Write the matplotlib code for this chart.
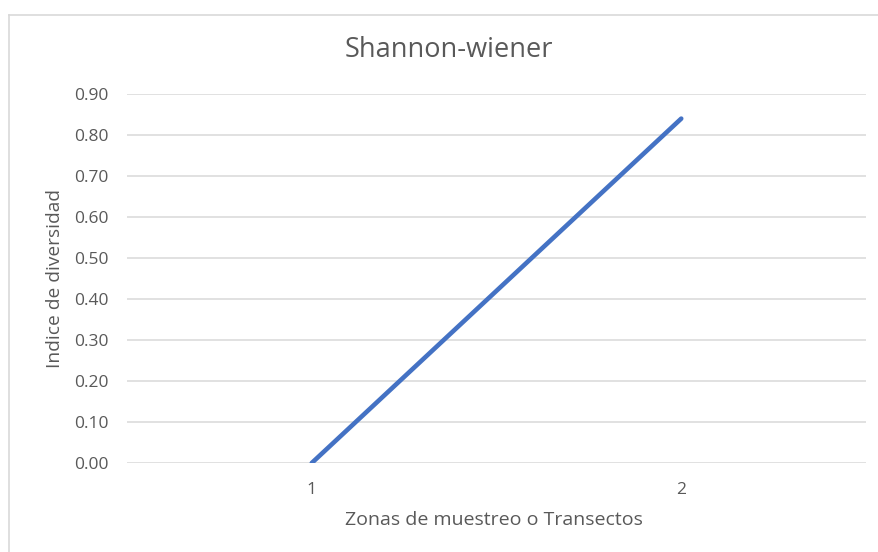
import matplotlib
matplotlib.use("Agg")
import matplotlib.pyplot as plt
from matplotlib.lines import Line2D

categories = ["1", "2"]
values = [0.00, 0.84]
yticks = [0.0, 0.1, 0.2, 0.3, 0.4, 0.5, 0.6, 0.7, 0.8, 0.9]
title = "Shannon-wiener"
xlabel = "Zonas de muestreo o Transectos"
ylabel = "Indice de diversidad"

plt.rcParams['font.family'] = ['Open Sans', 'DejaVu Sans']
W, H = 879, 552
fig = plt.figure(figsize=(W/100, H/100), dpi=100)
ax = fig.add_axes([127/W, 1-463/H, (866-127)/W, (463-94)/H])

x = list(range(1, len(categories)+1))
ax.plot(x, values, color="#4472C4", lw=3.3, solid_capstyle="round", zorder=3)
ax.set_xlim(0.5, len(categories)+0.5)
ax.set_ylim(0, 0.9)
ax.set_yticks(yticks)
ax.set_yticklabels([f"{v:.2f}" for v in yticks])
ax.set_xticks(x)
ax.set_xticklabels(categories)
ax.grid(axis="y", color="#d9d9d9", lw=1.1, zorder=0)
for s in ax.spines.values():
    s.set_visible(False)
ax.tick_params(axis="both", length=0, colors="#595959", labelsize=12.5)
ax.tick_params(axis="y", pad=13)
ax.tick_params(axis="x", pad=14)
fig.text(494/W, 1-520/H, xlabel, ha="center", va="center", fontsize=14, color="#595959")
fig.text(55/W, 1-278/H, ylabel, ha="center", va="center", rotation=90, fontsize=13.8, color="#595959")
fig.text(449/W, 1-50/H, title, ha="center", va="center", fontsize=19.5, color="#595959")

# chart frame (top and left edges visible)
fig.add_artist(Line2D([9/W, 1], [1-15/H, 1-15/H], color="#d9d9d9", lw=1.2, transform=fig.transFigure))
fig.add_artist(Line2D([9/W, 9/W], [0, 1-15/H], color="#d9d9d9", lw=1.2, transform=fig.transFigure))

fig.savefig("out.png", dpi=100)
